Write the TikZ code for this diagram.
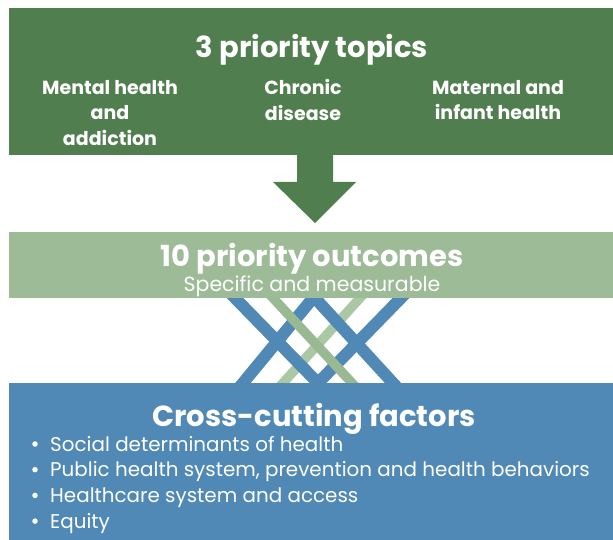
\documentclass[tikz,border=0pt]{standalone}
\usepackage{fontspec}
\setmainfont{Poppins}
\usetikzlibrary{positioning}
\definecolor{topicgreen}{RGB}{80,126,78}
\definecolor{outcomegreen}{RGB}{157,187,151}
\definecolor{factorblue}{RGB}{80,137,182}
\definecolor{lightstrand}{RGB}{171,200,165}
\definecolor{darkstrand}{RGB}{153,185,147}

\begin{document}
\begin{tikzpicture}
  [
  x=1pt, y=-1pt, text=white,
  panel/.style={rectangle, anchor=north west, inner sep=0pt, minimum width=604pt},
  heading/.style={font=\bfseries\fontsize{29}{32}\selectfont, anchor=base},
  topic/.style={font=\bfseries\fontsize{19}{25.5}\selectfont, align=center},
  subline/.style={font=\fontsize{20.5}{22}\selectfont, anchor=base},
  factor/.style={font=\fontsize{19.9}{22}\selectfont, anchor=base west, inner sep=0pt},
  dot/.style={circle, fill=white, inner sep=0pt, minimum size=5.5pt},
  strand/.style={line width=12pt, draw=factorblue, shorten <=-8pt, shorten >=-8pt},
  thinstrand/.style={line width=9.5pt, shorten <=-8pt, shorten >=-8pt}
  ]
\useasboundingbox (0,0) rectangle (613,540);

% strands between outcomes and factors
\draw[thinstrand, lightstrand] (360,298) -- (283,383);
\foreach \a/\b in {235/318, 313/243, 315/393, 401/318} {
  \draw[strand] (\a,298) -- (\b,383);
}
\draw[thinstrand, darkstrand] (273,298) -- (352,383);

\node[panel, fill=topicgreen, minimum height=147pt] (topics) at (9,8) {};
\node[panel, fill=outcomegreen, minimum height=66pt] (outcomes) at (9,232) {};
\node[panel, fill=factorblue, minimum height=157pt] (factors) at (9,383) {};

% arrow
\fill[topicgreen] (297,150) -- (333,150) -- (333,182) -- (356,182) -- (315,223)
  -- (273,182) -- (297,182) -- cycle;

\node[heading] (topicstitle) at (312,58) {3 priority topics};
\node[topic] (mental) at (110,113) {Mental health\\and\\addiction};
\node[topic] (chronic) at (303,100) {Chronic\\disease};
\node[topic] (maternal) at (498,100) {Maternal and\\infant health};

\node[heading] (outcomestitle) at (312,266) {10 priority outcomes};
\node[subline] (measurable) at (312,291) {Specific and measurable};

\node[heading] (factorstitle) at (314,426) {Cross-cutting factors};
\foreach \t [count=\i] in {Social determinants of health,
  {Public health system, prevention and health behaviors},
  Healthcare system and access, Equity} {
  \node[factor] (f\i) at (50,451+25.7*\i-25.7) {\t};
  \node[dot] (b\i) at (35,444+25.7*\i-25.7) {};
}

\end{tikzpicture}
\end{document}
